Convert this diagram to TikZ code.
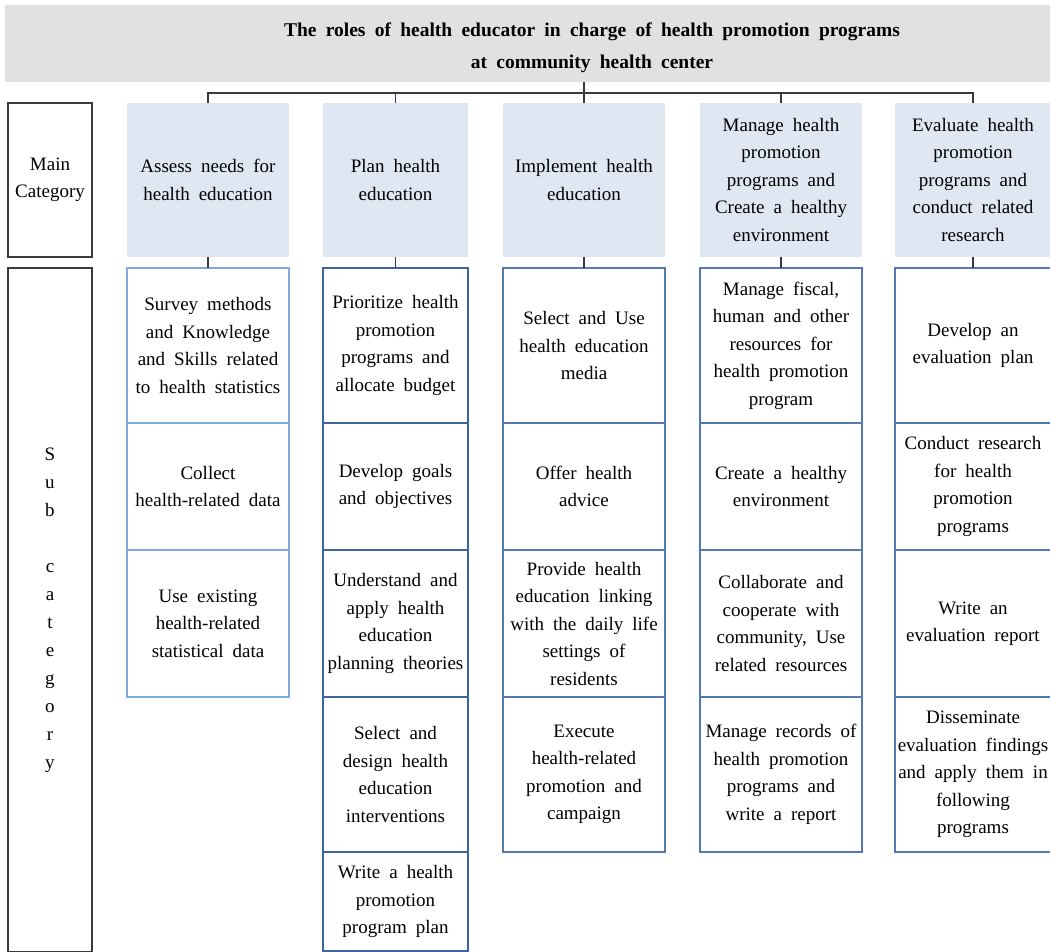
\documentclass[tikz,border=0pt]{standalone}
\usepackage{fontspec}
\setmainfont{Liberation Serif}[WordSpace=1.9]
\usetikzlibrary{positioning}
\definecolor{bandgray}{HTML}{E1E1E1}
\definecolor{mainfill}{HTML}{DFE8F2}
\definecolor{lineA}{HTML}{7FAADF}
\definecolor{lineB}{HTML}{3F64A2}
\definecolor{lineC}{HTML}{5479B3}
\definecolor{frame}{HTML}{3A3A3A}
\tikzset{
    txt/.style={
        font={\fontsize{19}{27.5}\selectfont}, align=center,
        inner sep=0pt, outer sep=0pt
    },
    mainbox/.style={
        txt, rectangle, fill=mainfill,
        minimum height=154pt
    },
    labelbox/.style={
        txt, rectangle, draw=frame, line width=1.2pt,
        minimum width=84pt
    },
    subbox/.style={
        txt, rectangle, draw=#1, line width=1.3pt
    },
    rowa/.style={minimum height=155pt},
    rowb/.style={minimum height=127pt},
    rowc/.style={minimum height=147pt},
    rowd/.style={minimum height=155pt},
    rowe/.style={minimum height=99pt},
    link/.style={draw=frame, line width=1.2pt}
}

\begin{document}
\begin{tikzpicture}[x=1pt, y=-1pt]
\useasboundingbox (0,0) rectangle (1050,952);

% Title band
\fill[bandgray] (5,5) rectangle (1051,82);
\node[txt, font={\fontsize{19.5}{32}\selectfont\bfseries}] (title) at (592,48)
    {The roles of health educator in charge of health promotion programs\\at community health center};
\coordinate (bandbot) at (584,82);

% Row labels
\node[labelbox, minimum height=154pt] (mainlbl) at (50,180) {Main\\Category};
\node[labelbox, minimum height=684pt, font={\fontsize{19}{28}\selectfont}] (sublbl) at (50,610)
    {S\\u\\b\\[28pt]c\\a\\t\\e\\g\\o\\r\\y};

% Main categories
\node[mainbox, minimum width=162pt] (m1) at (208,180) {Assess needs for\\health education};
\node[mainbox, minimum width=145pt] (m2) at (395.5,180) {Plan health\\education};
\node[mainbox, minimum width=162pt] (m3) at (584,180) {Implement health\\education};
\node[mainbox, minimum width=162pt] (m4) at (781,180) {Manage health\\promotion\\programs and\\Create a healthy\\environment};
\node[mainbox, minimum width=156pt] (m5) at (973,180) {Evaluate health\\promotion\\programs and\\conduct related\\research};

% Column 1
\node[subbox=lineA, rowa, minimum width=162pt, below=11pt of m1] (s11) {Survey methods\\and Knowledge\\and Skills related\\to health statistics};
\node[subbox=lineA, rowb, minimum width=162pt, below=0pt of s11] (s12) {Collect\\health-related data};
\node[subbox=lineA, rowc, minimum width=162pt, below=0pt of s12] (s13) {Use existing\\health-related\\statistical data};

% Column 2
\node[subbox=lineB, rowa, minimum width=145pt, below=11pt of m2] (s21) {Prioritize health\\promotion\\programs and\\allocate budget};
\node[subbox=lineB, rowb, minimum width=145pt, below=0pt of s21] (s22) {Develop goals\\and objectives};
\node[subbox=lineB, rowc, minimum width=145pt, below=0pt of s22] (s23) {Understand and\\apply health\\education\\planning theories};
\node[subbox=lineB, rowd, minimum width=145pt, below=0pt of s23] (s24) {Select and\\design health\\education\\interventions};
\node[subbox=lineB, rowe, minimum width=145pt, below=0pt of s24] (s25) {Write a health\\promotion\\program plan};

% Column 3
\node[subbox=lineC, rowa, minimum width=162pt, below=11pt of m3] (s31) {Select and Use\\health education\\media};
\node[subbox=lineC, rowb, minimum width=162pt, below=0pt of s31] (s32) {Offer health\\advice};
\node[subbox=lineC, rowc, minimum width=162pt, below=0pt of s32] (s33) {Provide health\\education linking\\with the daily life\\settings of\\residents};
\node[subbox=lineC, rowd, minimum width=162pt, below=0pt of s33] (s34) {Execute\\health-related\\promotion and\\campaign};

% Column 4
\node[subbox=lineC, rowa, minimum width=162pt, below=11pt of m4] (s41) {Manage fiscal,\\human and other\\resources for\\health promotion\\program};
\node[subbox=lineC, rowb, minimum width=162pt, below=0pt of s41] (s42) {Create a healthy\\environment};
\node[subbox=lineC, rowc, minimum width=162pt, below=0pt of s42] (s43) {Collaborate and\\cooperate with\\community, Use\\related resources};
\node[subbox=lineC, rowd, minimum width=162pt, below=0pt of s43] (s44) {Manage records of\\health promotion\\programs and\\write a report};

% Column 5
\node[subbox=lineC, rowa, minimum width=156pt, below=11pt of m5] (s51) {Develop an\\evaluation plan};
\node[subbox=lineC, rowb, minimum width=156pt, below=0pt of s51] (s52) {Conduct research\\for health\\promotion\\programs};
\node[subbox=lineC, rowc, minimum width=156pt, below=0pt of s52] (s53) {Write an\\evaluation report};
\node[subbox=lineC, rowd, minimum width=156pt, below=0pt of s53] (s54) {Disseminate\\evaluation findings\\and apply them in\\following\\programs};

% Tree connections
\draw[link] (bandbot) -- (m3.north);
\draw[link] (m1.north) -- ++(0,-10) -| (m5.north);
\draw[link] (m2.north) -- ++(0,-10);
\draw[link] (m4.north) -- ++(0,-10);
\foreach \c in {1,...,5}
    \draw[link] (m\c.south) -- (s\c1.north);

\end{tikzpicture}
\end{document}
